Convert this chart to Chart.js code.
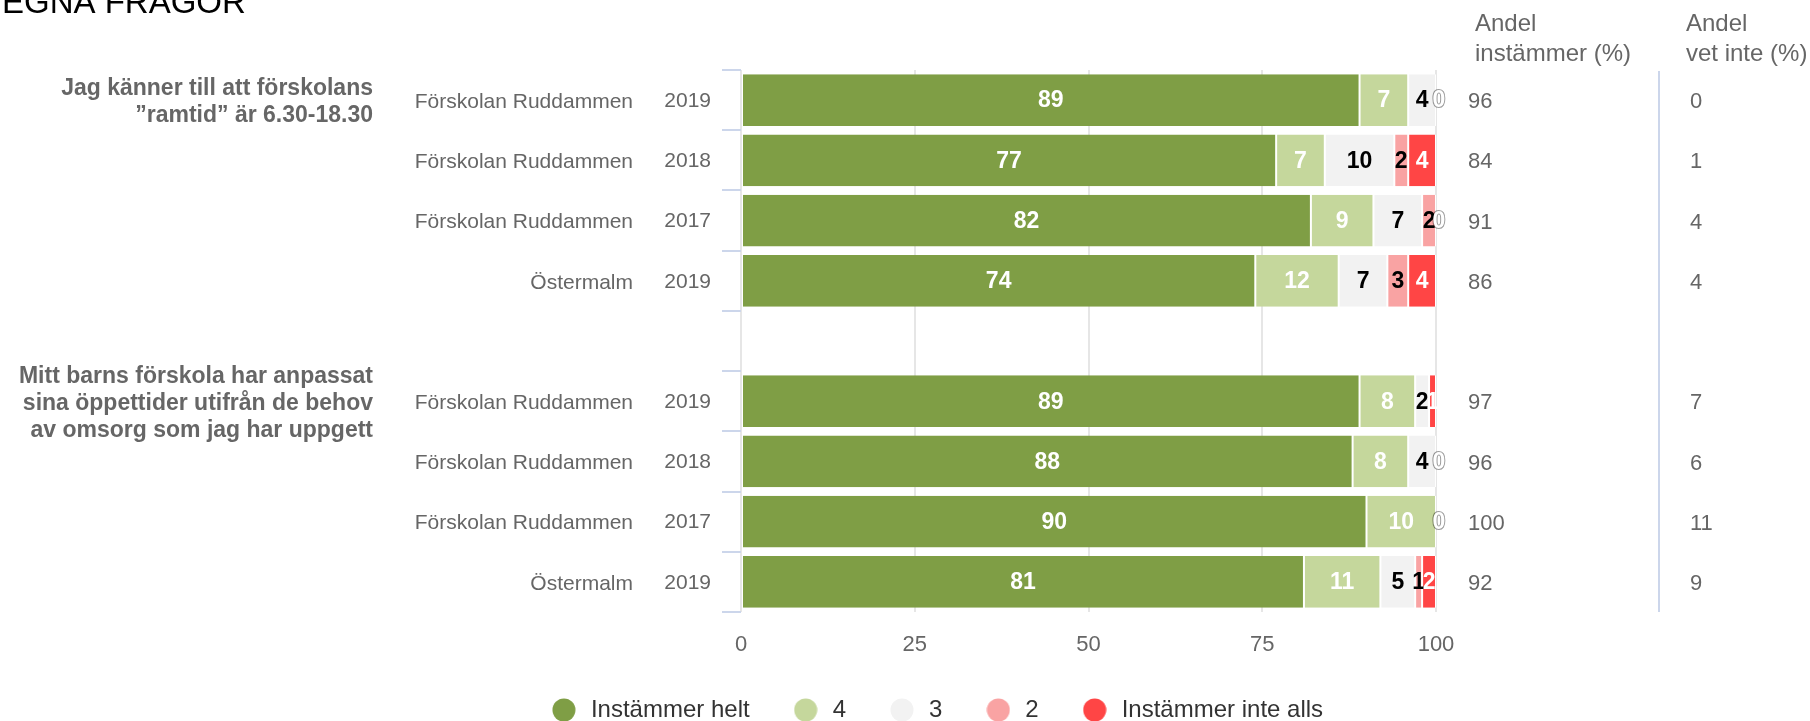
<!DOCTYPE html>
<html>
<head>
<meta charset="utf-8">
<script src="https://cdn.jsdelivr.net/npm/chart.js@4.4.1/dist/chart.umd.min.js"></script>
<style>
  html, body { margin: 0; padding: 0; background: #ffffff; }
  #wrap { width: 1810px; height: 721px; position: relative; }
</style>
</head>
<body>
<div id="wrap"><canvas id="c" width="1810" height="721"></canvas></div>
<script>
// ---------------- data ----------------
const pageTitle = "EGNA FRÅGOR";
const rowNames = ["Förskolan Ruddammen", "Förskolan Ruddammen", "Förskolan Ruddammen", "Östermalm", "",
                  "Förskolan Ruddammen", "Förskolan Ruddammen", "Förskolan Ruddammen", "Östermalm"];
const rowYears = ["2019", "2018", "2017", "2019", "", "2019", "2018", "2017", "2019"];
const questionRows = [0, 5];
const questionLines = [
  ["Jag känner till att förskolans", "”ramtid” är 6.30-18.30"],
  ["Mitt barns förskola har anpassat", "sina öppettider utifrån de behov", "av omsorg som jag har uppgett"]
];
const seriesNames = ["Instämmer helt", "4", "3", "2", "Instämmer inte alls"];
const valHelt  = [89, 77, 82, 74, null, 89, 88, 90, 81];
const val4     = [7, 7, 9, 12, null, 8, 8, 10, 11];
const val3     = [4, 10, 7, 7, null, 2, 4, 0, 5];
const val2     = [0, 2, 2, 3, null, 0, 0, 0, 1];
const valInte  = [0, 4, 0, 4, null, 1, 0, 0, 2];
const andelInstammer = [96, 84, 91, 86, null, 97, 96, 100, 92];
const andelVetInte   = [0, 1, 4, 4, null, 7, 6, 11, 9];
const colHeaders = [["Andel", "instämmer (%)"], ["Andel", "vet inte (%)"]];

// ---------------- styles ----------------
const FONT = '"Liberation Sans", Arial, sans-serif';
const seriesColors = ["#7f9e45", "#c5d79c", "#f2f2f2", "#f9a3a3", "#ff4545"];
const labelColors = ["#ffffff", "#ffffff", "#000000", "#000000", "#ffffff"];
Chart.defaults.font.family = FONT;

const circles = seriesColors.map(c => {
  const cv = document.createElement('canvas');
  cv.width = 24; cv.height = 24;
  const g = cv.getContext('2d');
  g.fillStyle = c;
  g.beginPath(); g.arc(12, 12, 11.5, 0, Math.PI * 2); g.fill();
  return cv;
});

const seriesData = [valHelt, val4, val3, val2, valInte];

const decor = {
  id: 'decor',
  afterDatasetsDraw(chart) {
    const ctx = chart.ctx;
    ctx.save();
    ctx.font = 'bold 23px ' + FONT;
    ctx.textAlign = 'center';
    ctx.textBaseline = 'middle';
    const last = chart.data.datasets.length - 1;
    chart.data.datasets.forEach((ds, i) => {
      const meta = chart.getDatasetMeta(i);
      meta.data.forEach((el, j) => {
        const v = ds.data[j];
        if (v == null) return;
        if (v === 0) {
          if (i !== last) return;
          ctx.lineWidth = 2;
          ctx.lineJoin = 'round';
          ctx.strokeStyle = 'rgba(0,0,0,0.4)';
          ctx.strokeText('0', el.x + 3, el.y + 1);
          ctx.fillStyle = '#ffffff';
          ctx.fillText('0', el.x + 3, el.y + 1);
          return;
        }
        ctx.fillStyle = labelColors[i];
        ctx.fillText(String(v), (el.x + el.base) / 2, el.y + 1);
      });
    });
    ctx.restore();
  },
  afterDraw(chart) {
    const ctx = chart.ctx, ys = chart.scales.y, area = chart.chartArea;
    ctx.save();
    // title (cut at top)
    ctx.font = '33px ' + FONT;
    ctx.fillStyle = '#000000';
    ctx.textAlign = 'left';
    ctx.textBaseline = 'alphabetic';
    ctx.fillText(pageTitle, 2, 13);

    // row names
    ctx.font = '21px ' + FONT;
    ctx.fillStyle = '#666666';
    ctx.textAlign = 'right';
    ctx.textBaseline = 'middle';
    rowNames.forEach((n, i) => {
      if (n) ctx.fillText(n, area.left - 108, ys.getPixelForValue(i) + 2);
    });

    // question labels
    ctx.font = 'bold 23px ' + FONT;
    questionRows.forEach((r, k) => {
      const lines = questionLines[k];
      const cy = ys.getPixelForValue(r);
      const lh = 27;
      lines.forEach((t, li) => {
        ctx.fillText(t, area.left - 368, cy + 2.5 + (li - (lines.length - 1) / 2) * lh);
      });
    });

    // column headers
    ctx.font = '24px ' + FONT;
    ctx.textAlign = 'left';
    ctx.textBaseline = 'alphabetic';
    const hx = [area.right + 39, area.right + 250];
    colHeaders.forEach((h, k) => {
      ctx.fillText(h[0], hx[k], 31);
      ctx.fillText(h[1], hx[k], 61);
    });

    // column values
    ctx.font = '22px ' + FONT;
    ctx.textBaseline = 'middle';
    const vx = [area.right + 32, area.right + 254];
    [andelInstammer, andelVetInte].forEach((arr, k) => {
      arr.forEach((v, i) => {
        if (v == null) return;
        ctx.fillText(String(v), vx[k], ys.getPixelForValue(i) + 2);
      });
    });

    // separator line
    ctx.strokeStyle = '#ccd6eb';
    ctx.lineWidth = 2;
    ctx.beginPath();
    ctx.moveTo(area.right + 223, area.top + 1);
    ctx.lineTo(area.right + 223, area.bottom);
    ctx.stroke();
    ctx.restore();
  }
};

new Chart(document.getElementById('c'), {
  type: 'bar',
  data: {
    labels: rowYears.map((y, i) => String(i)),
    datasets: seriesNames.map((name, i) => ({
      label: name,
      data: seriesData[i],
      backgroundColor: seriesColors[i],
      borderColor: '#ffffff',
      borderWidth: { left: 1, right: 1, top: 0, bottom: 0 },
      borderSkipped: false,
      categoryPercentage: 0.86,
      barPercentage: 1.0
    }))
  },
  options: {
    indexAxis: 'y',
    responsive: false,
    animation: false,
    layout: { padding: { left: 436, right: 374, top: 70, bottom: -11 } },
    scales: {
      x: {
        type: 'linear',
        stacked: true,
        min: 0,
        max: 100,
        ticks: { stepSize: 25, padding: 20, color: '#666666', font: { size: 22 } },
        grid: { color: '#e6e6e6', lineWidth: 2, drawTicks: false },
        border: { display: false },
        afterFit: s => { s.height = 45; }
      },
      y: {
        type: 'category',
        stacked: true,
        ticks: {
          padding: 11, color: '#666666', font: { size: 21 }, autoSkip: false, labelOffset: 1,
          callback: (v, i) => rowYears[i]
        },
        grid: { drawOnChartArea: false, color: '#ccd6eb', lineWidth: 2, tickLength: 19, offset: true },
        border: { display: false },
        afterFit: s => { s.width = 305; }
      }
    },
    plugins: {
      tooltip: { enabled: false },
      legend: {
        position: 'bottom',
        labels: {
          usePointStyle: true,
          pointStyleWidth: 30,
          boxHeight: 17,
          padding: 41,
          color: '#333333',
          font: { size: 24 },
          generateLabels: chart => Chart.defaults.plugins.legend.labels.generateLabels(chart)
            .map((it, i) => Object.assign(it, { pointStyle: circles[i], lineWidth: 0, fontColor: '#333333' }))
        }
      }
    }
  },
  plugins: [decor]
});
</script>
</body>
</html>
